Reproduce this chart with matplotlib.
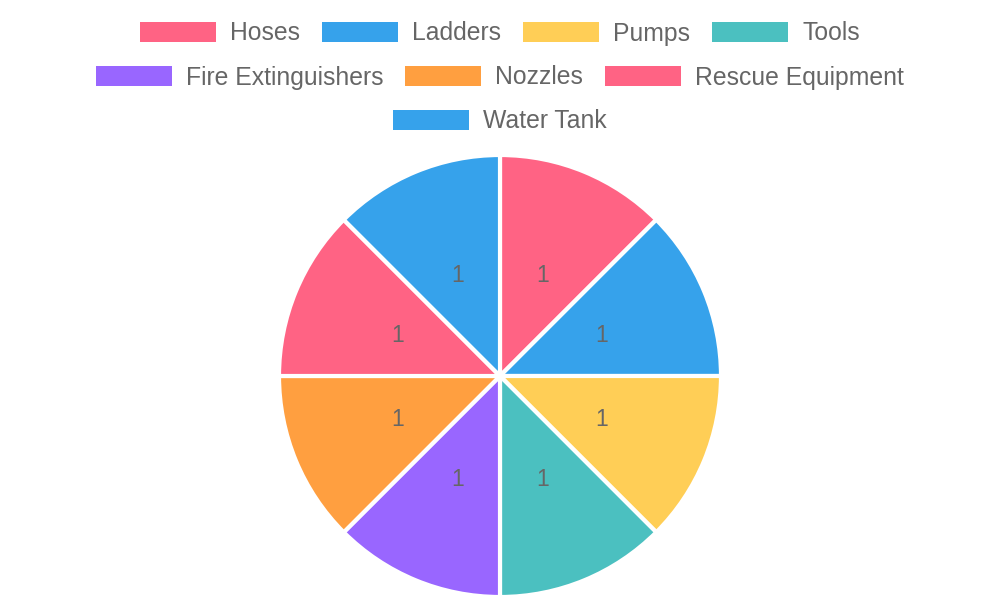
import matplotlib
matplotlib.use('Agg')
import matplotlib.pyplot as plt
from matplotlib.patches import Rectangle

plt.rcParams['font.family'] = ['Liberation Sans', 'DejaVu Sans']

# data
categories = ['Hoses', 'Ladders', 'Pumps', 'Tools', 'Fire Extinguishers',
              'Nozzles', 'Rescue Equipment', 'Water Tank']
values = [1, 1, 1, 1, 1, 1, 1, 1]
colors = ['#FF6384', '#36A2EB', '#FFCE56', '#4BC0C0', '#9966FF',
          '#FF9F40', '#FF6384', '#36A2EB']

W, H = 1000, 600
fig = plt.figure(figsize=(W / 100, H / 100), dpi=100)
ax = fig.add_axes([0, 0, 1, 1])

total = sum(values)
wedges, texts, autotexts = ax.pie(
    values, colors=colors, startangle=90, counterclock=False,
    center=(500, H - 376), radius=221,
    wedgeprops=dict(edgecolor='white', linewidth=3),
    autopct=lambda p: f'{p * total / 100:.0f}', pctdistance=0.5,
    textprops=dict(color='#666666', fontsize=16.5))
for t in autotexts:
    t.set_va('center_baseline')
    x0, y0 = t.get_position()
    t.set_position((x0, y0 + 1))

ax.set_xlim(0, W)
ax.set_ylim(0, H)
ax.set_aspect('equal')
ax.axis('off')

# legend, laid out in centred rows like the original
fs = 17.8
box_w, box_h = 76, 20
text_gap = 14
item_gap = 22
row_y = [32, 76, 120]
max_w = 960

renderer = fig.canvas.get_renderer()
widths = []
for name in categories:
    t = ax.text(0, 0, name, fontsize=fs)
    widths.append(t.get_window_extent(renderer).width)
    t.remove()

rows = [[]]
row_w = 0
for i, w in enumerate(widths):
    iw = box_w + text_gap + w
    if rows[-1] and row_w + item_gap + iw > max_w:
        rows.append([])
        row_w = 0
    row_w += iw if not rows[-1] else item_gap + iw
    rows[-1].append(i)

for r, idx in enumerate(rows):
    rw = sum(box_w + text_gap + widths[i] for i in idx) + item_gap * (len(idx) - 1)
    x = 500 - rw / 2
    yc = H - row_y[r]
    for i in idx:
        ax.add_patch(Rectangle((x, yc - box_h / 2), box_w, box_h,
                               facecolor=colors[i], edgecolor='none'))
        ax.text(x + box_w + text_gap, yc + 1, categories[i], fontsize=fs,
                color='#666666', va='center_baseline', ha='left')
        x += box_w + text_gap + widths[i] + item_gap

fig.savefig('out.png', dpi=100)
